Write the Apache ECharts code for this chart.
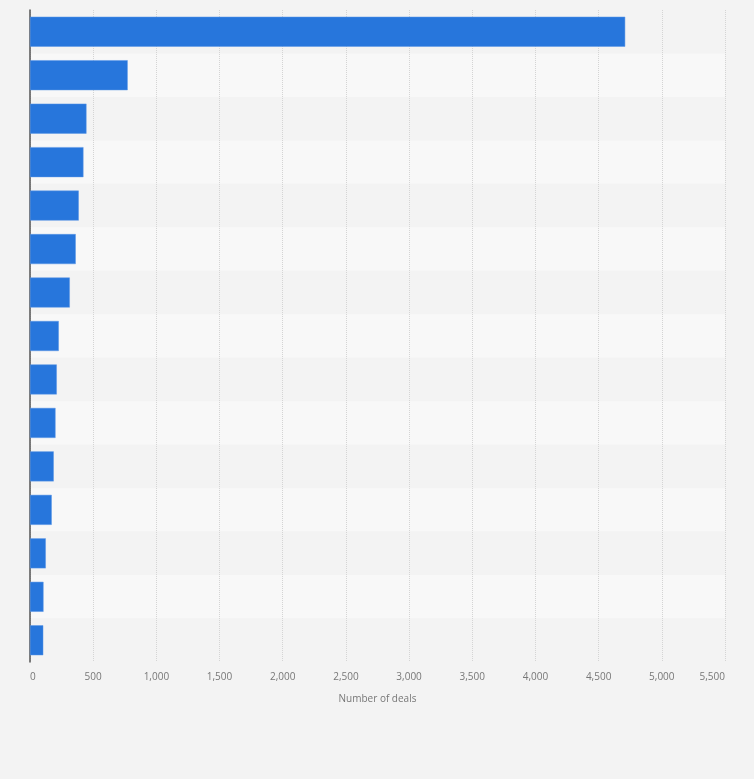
<!DOCTYPE html>
<html>
<head>
<meta charset="utf-8">
<script src="https://cdn.jsdelivr.net/npm/echarts@6/dist/echarts.min.js"></script>
<style>
  html, body { margin: 0; padding: 0; background: #f3f3f3; }
  #main { width: 754px; height: 779px; }
</style>
</head>
<body>
<div id="main"></div>
<script>
// categories (labels are not shown in the picture)
let categories = ["Rank 1","Rank 2","Rank 3","Rank 4","Rank 5","Rank 6","Rank 7","Rank 8",
                  "Rank 9","Rank 10","Rank 11","Rank 12","Rank 13","Rank 14","Rank 15"]
let deals = [4710, 773, 447, 423, 386, 362, 315, 228, 212, 202, 188, 172, 125, 107, 105]
let xTicks = [0, 500, 1000, 1500, 2000, 2500, 3000, 3500, 4000, 4500, 5000, 5500]

var myChart = echarts.init(document.getElementById('main'))
var option = {
  backgroundColor: '#f3f3f3',
  animation: false,
  grid: { left: 30, right: 29, top: 10, bottom: 117 },
  xAxis: {
    type: 'value',
    min: xTicks[0],
    max: xTicks[xTicks.length - 1],
    interval: 500,
    name: 'Number of deals',
    nameLocation: 'middle',
    nameGap: 32,
    nameTextStyle: { color: '#777', fontSize: 10, fontFamily: 'Open Sans' },
    axisLine: { show: false },
    axisTick: { show: false },
    axisLabel: {
      color: '#777', fontSize: 10, fontFamily: 'Open Sans', margin: 10,
      alignMinLabel: 'left', alignMaxLabel: 'right',
      formatter: v => v.toLocaleString('en-US')
    },
    splitLine: { show: true, lineStyle: { color: '#d4d4d4', type: [1, 1], width: 1 } }
  },
  yAxis: {
    type: 'category',
    data: categories,
    inverse: true,
    axisLabel: { show: false },
    axisTick: { show: false },
    axisLine: { show: true, lineStyle: { color: '#555', width: 1.5 } },
    splitArea: { show: true, areaStyle: { color: ['#f3f3f3', '#f8f8f8'] } }
  },
  series: [{
    type: 'bar',
    data: deals,
    barWidth: '69%',
    itemStyle: { color: '#2776dc', borderColor: '#5b97e6', borderWidth: 0.5 }
  }]
}
myChart.setOption(option)
</script>
</body>
</html>
